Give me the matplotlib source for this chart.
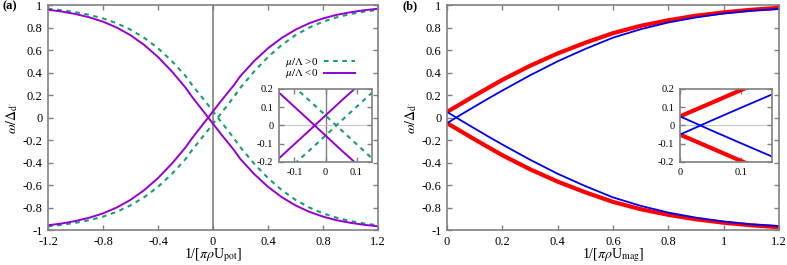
import matplotlib
matplotlib.use("Agg")
import matplotlib.pyplot as plt

# ---- data ----
# panel (a)
x_a = [-1.2, -1.1, -1.0, -0.9, -0.8, -0.7, -0.6, -0.5, -0.4, -0.3, -0.2,
       -0.15, -0.1, -0.05, 0.0, 0.05, 0.1, 0.15,
       0.2, 0.3, 0.4, 0.5, 0.6, 0.7, 0.8, 0.9, 1.0, 1.1, 1.2]
neg_up = [-0.958, -0.942, -0.920, -0.891, -0.852, -0.800, -0.732, -0.645, -0.538, -0.411, -0.266,
          -0.180, -0.102, -0.024, 0.055, 0.134, 0.210, 0.285,
          0.370, 0.503, 0.616, 0.708, 0.781, 0.838, 0.881, 0.913, 0.936, 0.954, 0.967]
neg_down = [0.958, 0.942, 0.920, 0.891, 0.852, 0.800, 0.732, 0.645, 0.538, 0.411, 0.266,
            0.180, 0.102, 0.024, -0.055, -0.134, -0.210, -0.285,
            -0.370, -0.503, -0.616, -0.708, -0.781, -0.838, -0.881, -0.913, -0.936, -0.954, -0.967]
pos_up = [-0.967, -0.954, -0.936, -0.913, -0.881, -0.838, -0.781, -0.708, -0.616, -0.503, -0.370,
          -0.285, -0.210, -0.134, -0.055, 0.024, 0.102, 0.180,
          0.266, 0.411, 0.538, 0.645, 0.732, 0.800, 0.852, 0.891, 0.920, 0.942, 0.958]
pos_down = [0.967, 0.954, 0.936, 0.913, 0.881, 0.838, 0.781, 0.708, 0.616, 0.503, 0.370,
            0.285, 0.210, 0.134, 0.055, -0.024, -0.102, -0.180,
            -0.266, -0.411, -0.538, -0.645, -0.732, -0.800, -0.852, -0.891, -0.920, -0.942, -0.958]

# panel (b)
x_b = [0.0, 0.05, 0.1, 0.15, 0.2, 0.3, 0.4, 0.5, 0.6, 0.7, 0.8, 0.9, 1.0, 1.1, 1.2]
red_up = [0.05, 0.122, 0.195, 0.265, 0.335, 0.46, 0.57, 0.665, 0.75, 0.815, 0.865, 0.905, 0.935, 0.958, 0.975]
red_down = [-0.05, -0.122, -0.195, -0.265, -0.335, -0.46, -0.57, -0.665, -0.75, -0.815, -0.865, -0.905, -0.935, -0.958, -0.975]
blue_up = [-0.05, 0.025, 0.098, 0.17, 0.24, 0.375, 0.5, 0.61, 0.71, 0.785, 0.845, 0.89, 0.925, 0.95, 0.965]
blue_down = [0.05, -0.025, -0.098, -0.17, -0.24, -0.375, -0.5, -0.61, -0.71, -0.785, -0.845, -0.89, -0.925, -0.95, -0.965]

main_yticks = [-1, -0.8, -0.6, -0.4, -0.2, 0, 0.2, 0.4, 0.6, 0.8, 1]
main_yticklabels = ["-1", "-0.8", "-0.6", "-0.4", "-0.2", "0", "0.2", "0.4", "0.6", "0.8", "1"]
a_xticks = [-1.2, -0.8, -0.4, 0, 0.4, 0.8, 1.2]
a_xticklabels = ["-1.2", "-0.8", "-0.4", "0", "0.4", "0.8", "1.2"]
b_xticks = [0, 0.2, 0.4, 0.6, 0.8, 1.0, 1.2]
b_xticklabels = ["0", "0.2", "0.4", "0.6", "0.8", "1", "1.2"]
in_yticks = [-0.2, -0.1, 0, 0.1, 0.2]
in_yticklabels = ["-0.2", "-0.1", "0", "0.1", "0.2"]

plt.rcParams["font.family"] = ["Liberation Serif", "DejaVu Serif"]
plt.rcParams["mathtext.fontset"] = "stix"

PURPLE = "#9400d3"
GREEN = "#1a9c78"
RED = "#ff0000"
BLUE = "#0000ee"
FRAME = "#808080"


def style(ax, size):
    for s in ax.spines.values():
        s.set_color(FRAME)
        s.set_linewidth(1.2)
    ax.tick_params(direction="in", top=True, right=True, length=3.5,
                   width=1.0, color=FRAME, labelsize=size, pad=4)


def draw_a(ax):
    ax.plot(x_a, pos_up, color=GREEN, lw=1.5, ls=(0, (2.2, 2.2)), label=r"$\mu/\Lambda$ >0")
    ax.plot(x_a, pos_down, color=GREEN, lw=1.5, ls=(0, (2.2, 2.2)))
    ax.plot(x_a, neg_up, color=PURPLE, lw=1.4, label=r"$\mu/\Lambda$ <0")
    ax.plot(x_a, neg_down, color=PURPLE, lw=1.4)


def draw_b(ax):
    ax.plot(x_b, red_up, color=RED, lw=3.0)
    ax.plot(x_b, red_down, color=RED, lw=3.0)
    ax.plot(x_b, blue_up, color=BLUE, lw=1.3)
    ax.plot(x_b, blue_down, color=BLUE, lw=1.3)


fig = plt.figure(figsize=(7.87, 2.65), dpi=100)
ylab = r"$\omega/\Delta_{\mathrm{d}'}$"

# ---- panel (a) ----
ax1 = fig.add_axes([0.061, 0.132, 0.4193, 0.849])
ax1.axvline(0, color=FRAME, lw=1.2, zorder=1)
draw_a(ax1)
ax1.set_xlim(-1.2, 1.2)
ax1.set_ylim(-1, 1)
ax1.set_xticks(a_xticks, a_xticklabels)
ax1.set_yticks(main_yticks, main_yticklabels)
style(ax1, 9)
ax1.set_xlabel(r"1/[$\pi\rho$U$_{\rm pot}$]", fontsize=10, labelpad=-1)
ax1.set_ylabel(ylab, fontsize=10, labelpad=2)
leg = ax1.legend(loc="upper right", bbox_to_anchor=(0.95, 0.805), frameon=False,
                 markerfirst=False, fontsize=8, handlelength=2.8, handletextpad=0.5,
                 labelspacing=-0.1, borderpad=0.1)
fig.text(0.003, 0.975, "(a)", fontsize=9, fontweight="bold", va="center")

ins1 = fig.add_axes([0.3545, 0.3887, 0.1182, 0.2755])
ins1.axvline(0, color=FRAME, lw=1.0, zorder=1)
ins1.axhline(0, color="#c8c8c8", lw=0.8, zorder=1)
draw_a(ins1)
ins1.set_xlim(-0.15, 0.15)
ins1.set_ylim(-0.2, 0.2)
ins1.set_xticks([-0.1, 0, 0.1], ["-0.1", "0", "0.1"])
ins1.set_yticks(in_yticks, in_yticklabels)
style(ins1, 7.5)

# ---- panel (b) ----
ax2 = fig.add_axes([0.568, 0.132, 0.4219, 0.849])
draw_b(ax2)
ax2.set_xlim(0, 1.2)
ax2.set_ylim(-1, 1)
ax2.set_xticks(b_xticks, b_xticklabels)
ax2.set_yticks(main_yticks, main_yticklabels)
style(ax2, 9)
ax2.set_xlabel(r"1/[$\pi\rho$U$_{\rm mag}$]", fontsize=10, labelpad=-1)
ax2.set_ylabel(ylab, fontsize=10, labelpad=2)
fig.text(0.512, 0.975, "(b)", fontsize=9, fontweight="bold", va="center")

ins2 = fig.add_axes([0.864, 0.3887, 0.1169, 0.2755])
ins2.axhline(0, color="#c8c8c8", lw=0.8, zorder=1)
draw_b(ins2)
ins2.set_xlim(0, 0.15)
ins2.set_ylim(-0.2, 0.2)
ins2.set_xticks([0, 0.1], ["0", "0.1"])
ins2.set_yticks(in_yticks, in_yticklabels)
style(ins2, 7.5)

fig.savefig("out.png", dpi=100)
